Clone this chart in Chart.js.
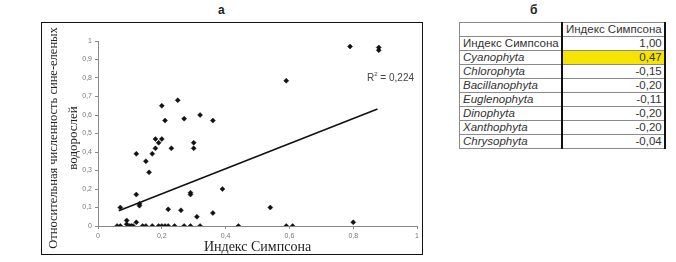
<!DOCTYPE html>
<html>
<head>
<meta charset="utf-8">
<script src="https://cdn.jsdelivr.net/npm/chart.js@4"></script>
<style>
  body { margin: 0; background: #fff; width: 676px; height: 262px; overflow: hidden; position: relative; font-family: "Liberation Sans", Arial, sans-serif; }
  .label { position: absolute; font-weight: bold; font-size: 12px; color: #222; }
  #frame { position: absolute; left: 41px; top: 22px; width: 380px; height: 231px; border: 1px solid #111; }
  #r2 { position: absolute; left: 367px; top: 71px; font-size: 10px; color: #444; white-space: nowrap; }
  #r2 sup { font-size: 6px; vertical-align: 5px; }
  table { position: absolute; left: 459px; top: 22px; border-collapse: collapse; font-size: 11.5px; color: #333; }
  td { height: 13px; padding: 0 2px 0 3px; border: 1px solid #8a8a8a; line-height: 13px; white-space: nowrap; }
  td.name { width: 96px; }
  td.val { width: 95px; text-align: right; border-left: 2px solid #111; border-right: 2px solid #111; }
  td.it { font-style: italic; }
  td.hl { background: #f4e400; }
</style>
</head>
<body>
<div class="label" style="left:218px; top:3px;">а</div>
<div class="label" style="left:530px; top:3px;">б</div>
<div id="frame"><canvas id="scatter"></canvas></div>
<div id="r2">R<sup>2</sup> = 0,224</div>
<table id="corr"><tbody id="tableBody"></tbody></table>
<script>
// scatter data: Simpson index vs relative abundance of blue-green algae
var xValues = [0.06, 0.07, 0.10, 0.105, 0.11, 0.14, 0.15, 0.17, 0.19, 0.20, 0.21, 0.22, 0.24, 0.27, 0.29, 0.32, 0.44, 0.59, 0.61,
  0.07, 0.09, 0.09, 0.12, 0.12, 0.13, 0.13, 0.12, 0.15, 0.16, 0.17, 0.18, 0.18, 0.19, 0.20, 0.21, 0.20,
  0.22, 0.23, 0.25, 0.26, 0.27, 0.29, 0.29, 0.30, 0.30, 0.31, 0.32, 0.36, 0.36, 0.39, 0.54, 0.59, 0.79, 0.80, 0.88, 0.88];
var yValues = [0, 0, 0, 0, 0, 0, 0, 0, 0, 0, 0, 0, 0, 0, 0, 0, 0, 0, 0,
  0.10, 0.03, 0.01, 0.02, 0.17, 0.12, 0.11, 0.39, 0.35, 0.29, 0.39, 0.42, 0.47, 0.45, 0.47, 0.57, 0.65,
  0.09, 0.42, 0.68, 0.085, 0.58, 0.18, 0.17, 0.45, 0.42, 0.05, 0.60, 0.57, 0.07, 0.20, 0.10, 0.785, 0.97, 0.02, 0.965, 0.95];

// linear trend line ends
var trendX = [0.065, 0.876];
var trendY = [0.082, 0.632];

var xTickLabels = ["0", "0,2", "0,4", "0,6", "0,8", "1"];
var yTickLabels = ["0", "0,1", "0,2", "0,3", "0,4", "0,5", "0,6", "0,7", "0,8", "0,9", "1"];

// table б
var rowNames = ["Индекс Симпсона", "Cyanophyta", "Chlorophyta", "Bacillanophyta", "Euglenophyta", "Dinophyta", "Xanthophyta", "Chrysophyta"];
var rowValues = ["1,00", "0,47", "-0,15", "-0,20", "-0,11", "-0,20", "-0,20", "-0,04"];

var points = xValues.map(function(x, i) {
  return { x: x, y: yValues[i] };
});

// y axis title in two lines, drawn by hand so it is not squeezed
var yTitlePlugin = {
  id: "yTitle",
  afterDraw: function(chart) {
    var ctx = chart.ctx;
    ctx.save();
    ctx.fillStyle = "#222";
    ctx.font = "12.5px 'Liberation Serif'";
    ctx.textAlign = "center";
    ctx.textBaseline = "middle";
    ctx.translate(12, 115);
    ctx.rotate(-Math.PI / 2);
    ctx.fillText("Относительная численность сине-еленых", 0, 0);
    ctx.font = "13px 'Liberation Serif'";
    ctx.fillText("водорослей", 0, 20);
    ctx.restore();
  }
};

var ctx = document.getElementById("scatter").getContext("2d");
new Chart(ctx, {
  type: "scatter",
  data: {
    datasets: [{
      data: points,
      pointStyle: "rectRot",
      pointRadius: 2.5,
      backgroundColor: "#111",
      borderColor: "#111",
      borderWidth: 0.5
    }, {
      type: "line",
      data: trendX.map(function(x, i) { return { x: x, y: trendY[i] }; }),
      borderColor: "#111",
      borderWidth: 1.6,
      pointRadius: 0,
      fill: false
    }]
  },
  options: {
    responsive: true,
    maintainAspectRatio: false,
    animation: false,
    layout: { padding: { left: 0, right: 4, top: 18, bottom: 0 } },
    plugins: { legend: { display: false }, tooltip: { enabled: false } },
    scales: {
      x: {
        type: "linear",
        min: 0,
        max: 1,
        afterFit: function(scale) { scale.height = 28; },
        border: { display: true, color: "#888", width: 1 },
        grid: { drawOnChartArea: false, drawTicks: true, tickLength: 3, color: "#888" },
        ticks: {
          stepSize: 0.2,
          padding: 3,
          color: "#777",
          font: { family: "Liberation Sans", size: 7 },
          maxRotation: 0,
          callback: function(value, index) { return xTickLabels[index]; }
        },
        title: {
          display: true,
          text: "Индекс Симпсона",
          color: "#222",
          padding: 0,
          font: { family: "Liberation Serif", size: 14, lineHeight: 1 }
        }
      },
      y: {
        min: 0,
        max: 1,
        afterFit: function(scale) { scale.width = 56; },
        border: { display: true, color: "#888", width: 1 },
        grid: { drawOnChartArea: false, drawTicks: true, tickLength: 3, color: "#888" },
        ticks: {
          stepSize: 0.1,
          padding: 3,
          color: "#777",
          font: { family: "Liberation Sans", size: 7 },
          callback: function(value, index) { return yTickLabels[index]; }
        }
      }
    }
  },
  plugins: [yTitlePlugin]
});

// build the correlation table
var tableBody = document.getElementById("tableBody");
var head = document.createElement("tr");
var emptyCell = document.createElement("td");
emptyCell.className = "name";
head.appendChild(emptyCell);
var headCell = document.createElement("td");
headCell.className = "val";
headCell.style.textAlign = "left";
headCell.textContent = "Индекс Симпсона";
head.appendChild(headCell);
tableBody.appendChild(head);

rowNames.forEach(function(name, i) {
  var row = document.createElement("tr");
  var nameCell = document.createElement("td");
  nameCell.className = "name" + (i > 0 ? " it" : "");
  nameCell.textContent = name;
  row.appendChild(nameCell);

  var valCell = document.createElement("td");
  valCell.className = "val" + (i === 1 ? " hl" : "");
  valCell.textContent = rowValues[i];
  row.appendChild(valCell);

  tableBody.appendChild(row);
});
</script>
</body>
</html>
